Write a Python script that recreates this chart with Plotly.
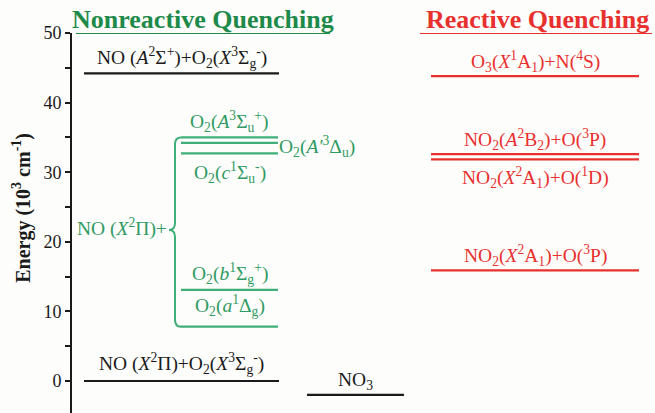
import plotly.graph_objects as go

# Energy levels (10^3 cm^-1)
E_NO_A_O2_X = 44.2      # NO(A) + O2(X)
E_GROUND = 0.0          # NO(X) + O2(X)
E_NO3 = -2.0            # NO3
O2_names = ["A3Su+", "A'3Du", "c1Su-", "b1Sg+", "a1Dg"]
O2_energies = [35.0, 34.2, 32.7, 13.1, 7.8]
RQ_names = ["O3+N4S", "NO2A+O3P", "NO2X+O1D", "NO2X+O3P"]
RQ_energies = [43.8, 32.6, 31.85, 15.9]

BLACK = "#1a1a1a"
GREEN_T = "#1e8a4a"
GREEN_L = "#3fae78"
GREEN_TXT = "#2f9a62"
RED = "#e8302e"
FONT = "Liberation Serif"
LBL = 19.5

# column extents on the horizontal (pixel-like) axis
COL_MAIN = (84, 279)
COL_O2 = (181, 278)
COL_NO3 = (307, 404)
COL_RQ = (431, 639)

fig = go.Figure()


def level(x, e, color, width=2.2):
    fig.add_trace(go.Scatter(x=[x[0], x[1]], y=[e, e], mode="lines",
                             line=dict(color=color, width=width),
                             hoverinfo="skip", showlegend=False))


def label(x, y, text, color, yshift=0, xanchor="center", size=LBL):
    fig.add_annotation(x=x, y=y, text=text, showarrow=False, xanchor=xanchor,
                       yanchor="middle", yshift=yshift,
                       font=dict(family=FONT, size=size, color=color))


# black levels
level(COL_MAIN, E_NO_A_O2_X, BLACK)
level(COL_MAIN, E_GROUND, BLACK)
level(COL_NO3, E_NO3, BLACK)
label(sum(COL_MAIN) / 2, E_NO_A_O2_X,
      "NO (<i>A</i><sup>2</sup>Σ<sup>+</sup>)+O<sub>2</sub>(<i>X</i><sup>3</sup>Σ<sub>g</sub><sup>-</sup>)",
      BLACK, yshift=16)
label(sum(COL_MAIN) / 2, E_GROUND,
      "NO (<i>X</i><sup>2</sup>Π)+O<sub>2</sub>(<i>X</i><sup>3</sup>Σ<sub>g</sub><sup>-</sup>)",
      BLACK, yshift=17)
label(sum(COL_NO3) / 2, E_NO3, "NO<sub>3</sub>", BLACK, yshift=14)

# O2 excited states
for e in O2_energies:
    level(COL_O2, e, GREEN_L)
cx = sum(COL_O2) / 2
label(cx, O2_energies[0], "O<sub>2</sub>(<i>A</i><sup>3</sup>Σ<sub>u</sub><sup>+</sup>)",
      GREEN_TXT, yshift=16)
label(COL_O2[1] - 1, O2_energies[1], "O<sub>2</sub>(<i>A'</i><sup>3</sup>Δ<sub>u</sub>)",
      GREEN_TXT, yshift=-4, xanchor="left")
label(cx, O2_energies[2], "O<sub>2</sub>(<i>c</i><sup>1</sup>Σ<sub>u</sub><sup>-</sup>)",
      GREEN_TXT, yshift=-19)
label(cx, O2_energies[3], "O<sub>2</sub>(<i>b</i><sup>1</sup>Σ<sub>g</sub><sup>+</sup>)",
      GREEN_TXT, yshift=16)
label(cx, O2_energies[4], "O<sub>2</sub>(<i>a</i><sup>1</sup>Δ<sub>g</sub>)",
      GREEN_TXT, yshift=21)

# curly brace grouping the O2 states
top, bot = max(O2_energies), min(O2_energies)
mid = 21.7
xb, xt, xe = 175, 169, 181
brace = (f"M {xe},{top} Q {xb},{top} {xb},{top-1.0} L {xb},{mid+1.0} "
         f"Q {xb},{mid} {xt},{mid} Q {xb},{mid} {xb},{mid-1.0} "
         f"L {xb},{bot+1.0} Q {xb},{bot} {xe},{bot}")
fig.add_shape(type="path", path=brace, xref="x", yref="y",
              line=dict(color=GREEN_L, width=2))
label(xt, mid, "NO (<i>X</i><sup>2</sup>Π)+", GREEN_TXT, xanchor="right", yshift=2)

# reactive quenching channels
for e in RQ_energies:
    level(COL_RQ, e, RED)
rx = sum(COL_RQ) / 2
label(rx, RQ_energies[0], "O<sub>3</sub>(<i>X</i><sup>1</sup>A<sub>1</sub>)+N(<sup>4</sup>S)",
      RED, yshift=15)
label(rx, RQ_energies[1], "NO<sub>2</sub>(<i>A</i><sup>2</sup>B<sub>2</sub>)+O(<sup>3</sup>P)",
      RED, yshift=15)
label(rx, RQ_energies[2], "NO<sub>2</sub>(<i>X</i><sup>2</sup>A<sub>1</sub>)+O(<sup>1</sup>D)",
      RED, yshift=-18)
label(rx, RQ_energies[3], "NO<sub>2</sub>(<i>X</i><sup>2</sup>A<sub>1</sub>)+O(<sup>3</sup>P)",
      RED, yshift=15)

# section headings with underlines
fig.add_annotation(x=203, y=50, text="<b>Nonreactive Quenching</b>", showarrow=False,
                   xanchor="center", yanchor="bottom", yshift=-3,
                   font=dict(family=FONT, size=26, color=GREEN_T))
fig.add_shape(type="line", x0=76, x1=330, y0=50, y1=50, xref="x", yref="y",
              line=dict(color=GREEN_T, width=2))
fig.add_annotation(x=537, y=50, text="<b>Reactive Quenching</b>", showarrow=False,
                   xanchor="center", yanchor="bottom", yshift=-3,
                   font=dict(family=FONT, size=26, color=RED))
fig.add_shape(type="line", x0=420, x1=652, y0=50, y1=50, xref="x", yref="y",
              line=dict(color=RED, width=2))

# vertical axis title
fig.add_annotation(x=0, y=0.54, xref="paper", yref="paper", xshift=-50,
                   text="<b>Energy (10<sup>3</sup> cm<sup>-1</sup>)</b>",
                   textangle=-90, showarrow=False, xanchor="center", yanchor="middle",
                   font=dict(family=FONT, size=20, color=BLACK))

fig.update_layout(
    width=655, height=413,
    margin=dict(l=72, r=0, t=33, b=0),
    paper_bgcolor="#fdfdfb", plot_bgcolor="#fdfdfb",
    showlegend=False,
    xaxis=dict(range=[72, 655], visible=False, fixedrange=True),
    yaxis=dict(range=[-4.6, 50], showgrid=False, zeroline=False,
               showline=True, linecolor=BLACK, linewidth=2,
               ticks="outside", ticklen=5, tickwidth=2, tickcolor=BLACK,
               tickmode="linear", tick0=0, dtick=10,
               minor=dict(ticks="outside", ticklen=5, tickwidth=2,
                          tickcolor=BLACK, dtick=5, tick0=0),
               tickfont=dict(family=FONT, size=18, color=BLACK)),
)

fig.write_html("out.html")
